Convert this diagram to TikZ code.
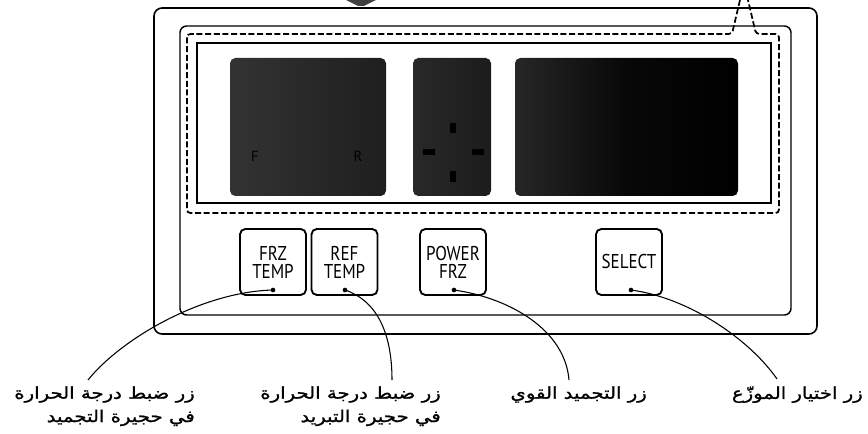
\documentclass[tikz,border=0pt]{standalone}
\usepackage{fontspec}
\setsansfont{PT Sans}
\newfontfamily\arabicfont[Script=Arabic, FakeBold=1.2, FakeStretch=1.2]{DejaVu Sans}
\newfontfamily\keyfont[FakeStretch=0.85]{PT Sans}
\TeXXeTstate=1
\usetikzlibrary{positioning}

\tikzset{
  key/.style={draw, line width=1.4pt, rounded corners=4pt,
    minimum width=49.5pt, minimum height=49.5pt, inner sep=0pt,
    align=center, font=\keyfont\fontsize{15}{13.5}\selectfont},
  keydot/.style={circle, fill, inner sep=0pt, minimum size=3.5pt},
  lcd/.style={rounded corners=4pt},
  seg/.style={fill=black},
  tag/.style={font=\sffamily\fontsize{11}{11}\selectfont, text=black},
  note/.style={font=\arabicfont\fontsize{12.3}{15}\selectfont,
    align=right, inner sep=0pt},
  lead/.style={line width=0.8pt},
}

\begin{document}
\begin{tikzpicture}[x=0.75pt, y=-0.75pt]
  \useasboundingbox (0,0) rectangle (868,434);

  % pointer at the top
  \fill[black!75] (346,0) -- (376,0) -- (364,6) -- (358,6) -- cycle;

  % frames
  \draw[line width=1.2pt, rounded corners=6pt] (154,8) rectangle (817,334);
  \draw[line width=1.1pt, rounded corners=5pt] (180,26) rectangle (791,315);
  \draw[line width=1.5pt] (197,43) rectangle (771,203);
  % dashed outline with its spike
  \draw[line width=1.3pt, dash pattern=on 4.5pt off 2pt, rounded corners=2.5pt]
    (740,0) -- (732,34) -- (187,34) -- (187,213) -- (779,213) -- (779,34)
    -- (756,34) -- (748,0);

  % displays
  \shade[lcd, left color=black!80, right color=black!88] (230,58) rectangle (386,196);
  \shade[lcd, left color=black!84, right color=black!89] (413,58) rectangle (491,196);
  \shade[lcd, left color=black!85, right color=black, middle color=black!97] (515,58) rectangle (738,196);

  \node[tag] (ftag) at (255,156) {F};
  \node[tag] (rtag) at (358,156) {R};

  % segments
  \fill[seg] (450,123) rectangle (456,133);
  \fill[seg] (423,149) rectangle (435,155);
  \fill[seg] (472,149) rectangle (484,155);
  \fill[seg] (450,171) rectangle (456,182);

  % keys
  \node[key] (frz) at (273,262) {FRZ\\TEMP};
  \node[key] (ref) at (344.5,262) {REF\\TEMP};
  \node[key] (power) at (453,262) {POWER\\FRZ};
  \node[key] (select) at (629,262) {SELECT};

  \node[keydot] (frzdot) at (273,290) {};
  \node[keydot] (refdot) at (345,290) {};
  \node[keydot] (powerdot) at (454,290) {};
  \node[keydot] (selectdot) at (631,290) {};

  % labels
  \node[note, anchor=north east] (frzlbl) at (195,386)
    {\beginR زر ضبط درجة الحرارة\endR\\[2.5pt]\beginR في حجيرة التجميد\endR};
  \node[note, anchor=north east] (reflbl) at (441,386)
    {\beginR زر ضبط درجة الحرارة\endR\\[2.5pt]\beginR في حجيرة التبريد\endR};
  \node[note, anchor=north east] (powerlbl) at (647,386)
    {\beginR زر التجميد القوي\endR};
  \node[note, anchor=north east] (selectlbl) at (863,386)
    {\beginR زر اختيار الموزّع\endR};

  \coordinate (frzend) at (88,380);
  \coordinate (refend) at (392,380);
  \coordinate (powerend) at (569,380);
  \coordinate (selectend) at (777,379);

  % leaders
  \draw[lead] (frzdot.center) .. controls (200,292) and (120,340) .. (frzend);
  \draw[lead] (refdot.center) .. controls (375,300) and (392,330) .. (refend);
  \draw[lead] (powerdot.center) .. controls (510,298) and (565,330) .. (powerend);
  \draw[lead] (selectdot.center) .. controls (690,298) and (750,340) .. (selectend);

\end{tikzpicture}
\end{document}
